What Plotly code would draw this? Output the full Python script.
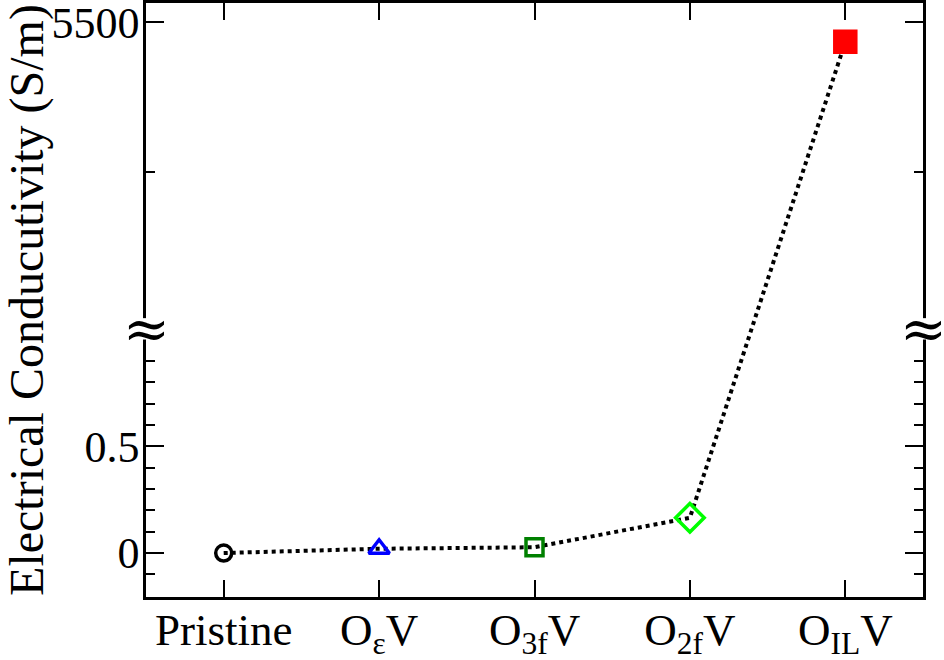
import plotly.graph_objects as go

# ---- data ----
categories = ["Pristine", "O<sub>ε</sub>V", "O<sub>3f</sub>V", "O<sub>2f</sub>V", "O<sub>IL</sub>V"]
conductivity = [0.0, 0.02, 0.027, 0.165, 5435.0]   # S/m
marker_symbols = ["circle-open", "triangle-up-open", "square-open", "diamond-open", "square"]
marker_colors = ["#000000", "#0000ff", "#008000", "#00ff00", "#ff0000"]
marker_sizes = [16, 18, 17, 22, 21]

major_ticks = [0.0, 0.5, 5500.0]
major_labels = ["0", "0.5", "5500"]
minor_ticks = [-0.1, 0.1, 0.2, 0.3, 0.4, 0.6, 0.7, 0.8, 0.9, 5000.0]

# ---- broken axis scale ----
BREAK_LO = 1.05      # top of lower segment (S/m)
BREAK_HI = 4475.0    # bottom of upper segment (S/m)
UPPER_SCALE = 0.7 / 500.0


def to_axis(v):
    return v if v <= BREAK_LO else BREAK_LO + (v - BREAK_HI) * UPPER_SCALE


x_idx = list(range(len(categories)))
y_axis_vals = [to_axis(v) for v in conductivity]

FONT = "Liberation Serif"

fig = go.Figure()
fig.add_trace(go.Scatter(
    x=x_idx, y=y_axis_vals, mode="lines",
    line=dict(color="black", width=4, dash="4px,4px"),
    hoverinfo="skip", showlegend=False,
))
fig.add_trace(go.Scatter(
    x=x_idx, y=y_axis_vals, mode="markers", opacity=1,
    marker=dict(symbol=marker_symbols, color=marker_colors, size=marker_sizes, opacity=1,
                line=dict(width=3.5, color=marker_colors)),
    customdata=conductivity,
    hovertemplate="%{customdata} S/m<extra></extra>",
    showlegend=False, cliponaxis=False,
))

fig.update_layout(
    width=944, height=660,
    margin=dict(l=146, r=21, t=3, b=63),
    paper_bgcolor="white", plot_bgcolor="white",
    font=dict(family=FONT, color="black", size=43),
    xaxis=dict(
        range=[-0.5, 4.5], tickmode="array", tickvals=x_idx, ticktext=categories,
        ticks="inside", ticklen=17, tickwidth=2, tickcolor="black",
        showline=True, linewidth=2.5, linecolor="black", mirror="ticks",
        showgrid=False, zeroline=False, automargin=False,
        ticklabelstandoff=-9, ticklabeloverflow="allow",
        tickfont=dict(family=FONT, size=45),
    ),
    yaxis=dict(
        range=[to_axis(-0.206), 2.576], tickmode="array",
        tickvals=[to_axis(v) for v in major_ticks], ticktext=major_labels,
        ticks="inside", ticklen=18, tickwidth=2, tickcolor="black",
        minor=dict(tickmode="array", tickvals=[to_axis(v) for v in minor_ticks],
                   ticks="inside", ticklen=9, tickwidth=2, tickcolor="black", showgrid=False),
        showline=True, linewidth=2.5, linecolor="black", mirror="ticks",
        showgrid=False, zeroline=False, automargin=False,
        ticklabeloverflow="allow", ticklabelstandoff=-5,
        tickfont=dict(family=FONT, size=44),
        title=dict(text="Electrical Conducutivity (S/m)", font=dict(family=FONT, size=48), standoff=8),
    ),
)

for xp in (0, 1):
    fig.add_shape(type="rect", xref="paper", yref="y", x0=xp - 0.006, x1=xp + 0.006,
                  y0=BREAK_LO - 0.05, y1=BREAK_LO + 0.05,
                  fillcolor="white", line=dict(width=0), layer="above")
    fig.add_annotation(
        x=xp, xref="paper", y=BREAK_LO, yref="y", text="≈", showarrow=False,
        font=dict(family="DejaVu Serif", size=56, color="black"),
        xanchor="center", yanchor="middle",
    )

fig.write_html("out.html", config={"displayModeBar": False},
               post_script="document.body.style.margin='0';")
